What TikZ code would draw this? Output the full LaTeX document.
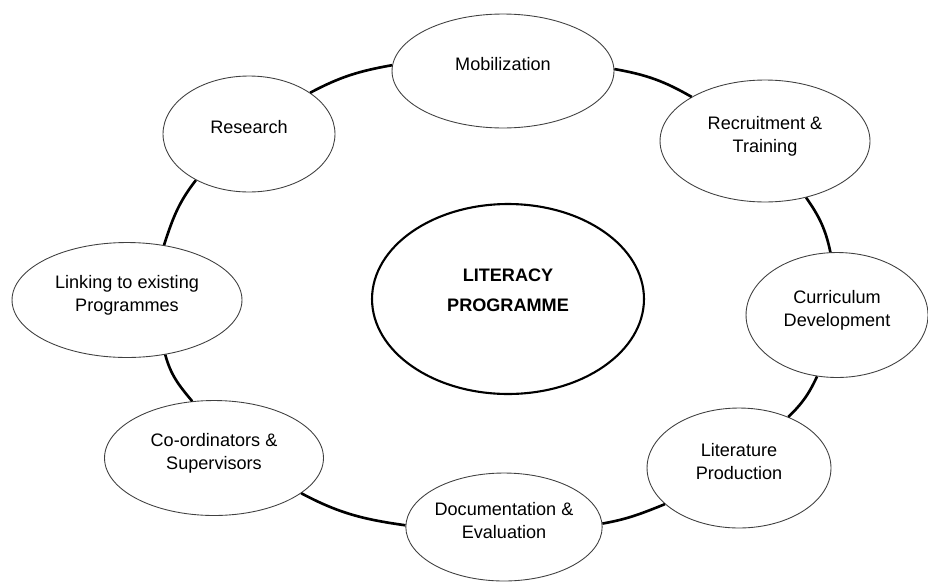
\documentclass[tikz,border=0pt]{standalone}
\usepackage{fontspec}
\setmainfont{Liberation Sans}
\usepackage{tikz}
\usetikzlibrary{shapes.geometric}

\begin{document}
\begin{tikzpicture}[
  x=0.02cm, y=0.02cm,
  font=\fontsize{10.3}{13}\selectfont,
  part/.style={ellipse, draw=black!75, line width=0.5pt, fill=white,
    align=center, inner sep=0pt, text depth=0.27cm},
  hub/.style={ellipse, draw=black, line width=1.2pt, fill=white,
    align=center, inner sep=0pt, text depth=0.35cm,
    font=\fontsize{10.3}{17}\selectfont\bfseries},
  ring/.style={line width=1.5pt}
]
\useasboundingbox (0,0) rectangle (928,583);
\node[hub, minimum width=5.44cm, minimum height=3.8cm] (lit) at (508,284) {LITERACY\\PROGRAMME};
\node[part, minimum width=4.44cm, minimum height=2.28cm] (mob) at (503,512) {Mobilization};
\node[part, minimum width=4.2cm, minimum height=2.44cm] (rec) at (765,442) {Recruitment \&\\Training};
\node[part, minimum width=3.64cm, minimum height=2.5cm] (cur) at (837,268) {Curriculum\\Development};
\node[part, minimum width=3.68cm, minimum height=2.4cm] (ltp) at (739,115) {Literature\\Production};
\node[part, minimum width=3.88cm, minimum height=2.16cm] (doc) at (504,56) {Documentation \&\\Evaluation};
\node[part, minimum width=4.38cm, minimum height=2.3cm] (coo) at (214,125) {Co-ordinators \&\\Supervisors};
\node[part, minimum width=4.6cm, minimum height=2.3cm] (lnk) at (127,283) {Linking to existing\\Programmes};
\node[part, minimum width=3.44cm, minimum height=2.32cm] (res) at (249,449) {Research};
% outer ring, clockwise
\draw[ring] (res.34) to[out=28, in=190] (mob.177);
\draw[ring] (mob.1) to[out=-10, in=150] (rec.149);
\draw[ring] (rec.-54) to[out=-55, in=102] (cur.96);
\draw[ring] (cur.252) to[out=245, in=44] (ltp.46);
\draw[ring] (ltp.206) to[out=202, in=10] (doc.2);
\draw[ring] (doc.179) to[out=172, in=-28] (coo.-22);
\draw[ring] (coo.111) to[out=130, in=-75] (lnk.305);
\draw[ring] (lnk.56) to[out=72, in=232] (res.221);
\end{tikzpicture}
\end{document}
